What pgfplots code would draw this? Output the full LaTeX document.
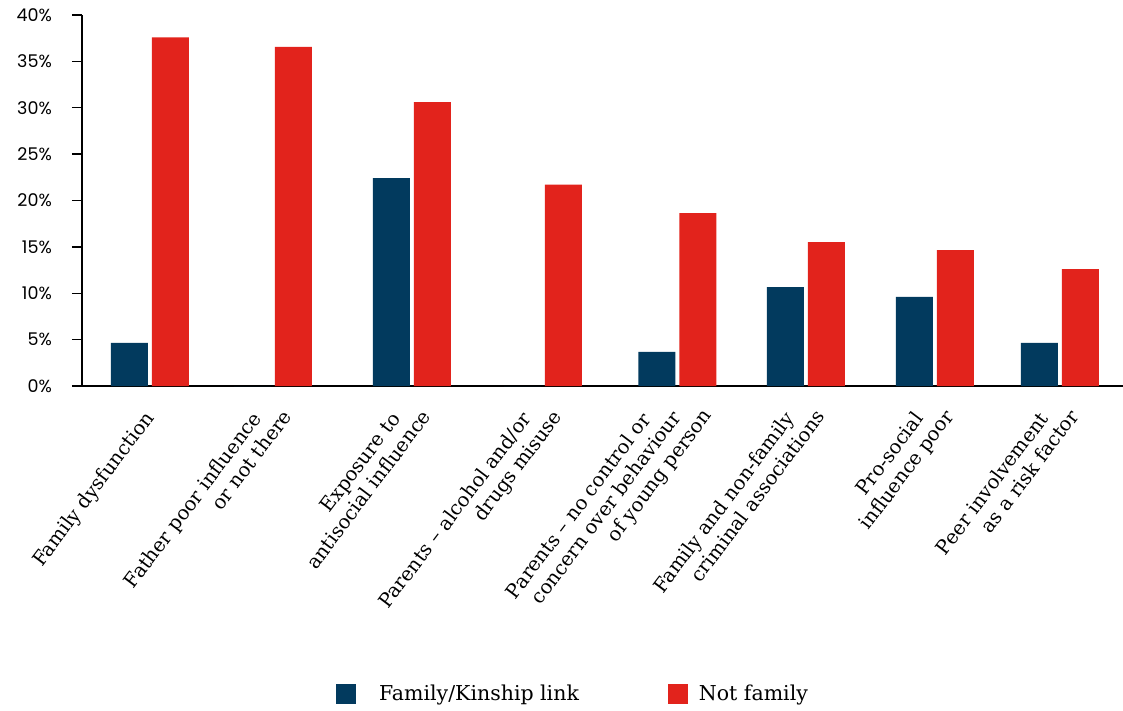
\documentclass[border=0pt]{standalone}
\usepackage{pgfplots}
\pgfplotsset{compat=1.18}
\usepackage{fontspec}
\setmainfont{DejaVu Serif}
\newfontfamily\tickfont{Poppins}
\definecolor{navy}{HTML}{023A5E}
\definecolor{redbar}{HTML}{E2231C}
\newcommand{\twol}[2]{\begin{tabular}{@{}r@{}}#1\kern10pt\\#2\kern-10pt\end{tabular}}
\newcommand{\threel}[3]{\begin{tabular}{@{}r@{}}#1\kern20pt\\#2\\#3\kern-20pt\end{tabular}}
\pgfplotsset{sqlegend/.style={legend image code/.code={\fill[##1] (0pt,-10pt) rectangle (20pt,10pt);}}}
\begin{document}
\begin{tikzpicture}
\path[use as bounding box] (-82pt,-325pt) rectangle (1041pt,386pt);
\begin{axis}[
  at={(0pt,0pt)}, anchor=south west,
  scale only axis, width=1041pt, height=371pt,
  ymin=0, ymax=40, xmin=-0.523, xmax=7.485,
  axis lines=left, axis line style={-, line width=1.3pt, black},
  ybar, bar width=37pt,
  ytick={0,5,...,40},
  yticklabel={\pgfmathprintnumber{\tick}\%},
  /pgf/number format/assume math mode=true,
  yticklabel style={font=\tickfont\fontsize{17.5}{20}\selectfont, inner sep=0pt, xshift=-20pt},
  ytick align=outside, major tick length=10pt,
  ytick style={line width=1.3pt, black},
  xtick={0,0.946,2.015,3.023,4.058,5.046,6.038,7.0},
  xtick style={draw=none},
  xticklabels={
    {Family dysfunction},
    {\twol{Father poor influence}{or not there}},
    {\twol{Exposure to}{antisocial influence}},
    {\twol{Parents – alcohol and/or}{drugs misuse}},
    {\threel{Parents – no control or}{concern over behaviour}{of young person}},
    {\twol{Family and non-family}{criminal associations}},
    {\twol{Pro-social}{influence poor}},
    {\twol{Peer involvement}{as a risk factor}}},
  xticklabel style={font=\fontsize{19.5}{23}\selectfont, inner sep=0pt, xshift=1pt, yshift=-19pt, rotate=53, anchor=east},
  legend style={draw=none, fill=none, at={(0.4717,-0.830)}, anchor=center,
    font=\fontsize{20.5}{24}\selectfont,
    /tikz/column 1/.style={column sep=21pt},
    /tikz/column 2/.style={column sep=87pt},
    /tikz/column 3/.style={column sep=9pt}},
  legend columns=2,
]
\addplot[sqlegend, fill=navy, draw=none, bar shift=-20.5pt] coordinates {
  (0,4.64) (0.946,0) (2.015,22.4) (3.023,0) (4.058,3.67) (5.046,10.67) (6.038,9.6) (7.0,4.64)};
\addlegendentry{Family/Kinship link}
\addplot[sqlegend, fill=redbar, draw=none, bar shift=20.5pt] coordinates {
  (0,37.6) (0.946,36.55) (2.015,30.6) (3.023,21.7) (4.058,18.65) (5.046,15.5) (6.038,14.66) (7.0,12.6)};
\addlegendentry{Not family}
\end{axis}
\end{tikzpicture}
\end{document}
